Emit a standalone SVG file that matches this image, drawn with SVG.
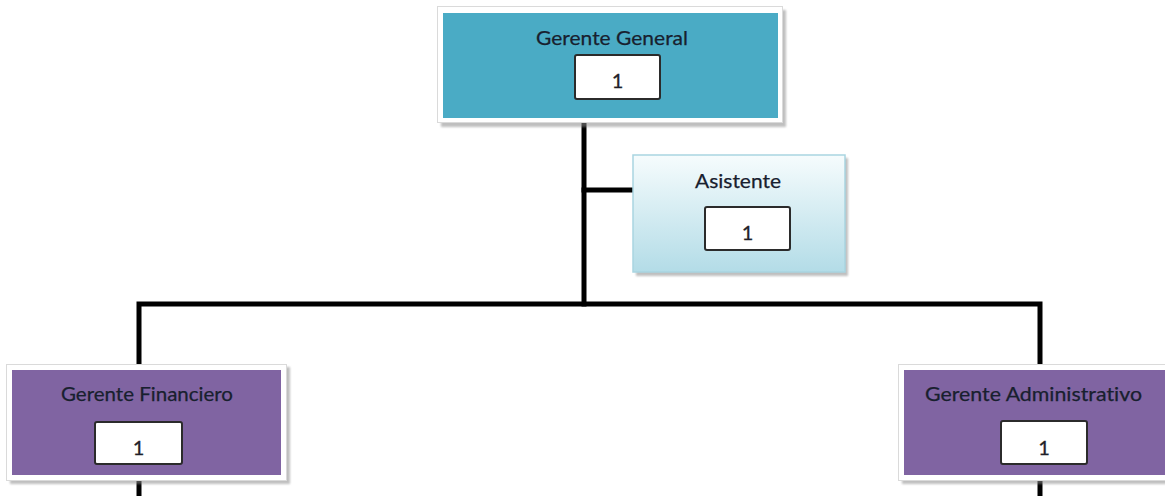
<svg xmlns="http://www.w3.org/2000/svg" width="1165" height="496" viewBox="0 0 1165 496">
  <defs>
    <linearGradient id="asistGrad" x1="0" y1="0" x2="0" y2="1">
      <stop offset="0" stop-color="#f6fcfd"/>
      <stop offset="1" stop-color="#b3dce7"/>
    </linearGradient>
    <filter id="soft" x="-5%" y="-5%" width="110%" height="115%">
      <feGaussianBlur stdDeviation="1.2"/>
    </filter>
  </defs>
  <style>
    .link { fill: none; stroke: #000; stroke-width: 5; stroke-linecap: square; stroke-linejoin: miter; }
    .shadow { fill: #8c8c8c; opacity: 0.55; filter: url(#soft); }
    .frame { fill: #ffffff; stroke: #dadada; stroke-width: 1; }
    .teal { fill: #4aabc5; }
    .purple { fill: #8064a2; }
    .asist { fill: url(#asistGrad); stroke: #a9d5e1; stroke-width: 1.5; }
    .count { fill: #ffffff; stroke: #2b2b2b; stroke-width: 2; }
    .title { font-family: "Lato", "Open Sans", "Liberation Sans", sans-serif; font-size: 20px; fill: #18202e; text-anchor: middle; font-variant-ligatures: none; stroke: #18202e; stroke-width: 0.25; }
    .num { font-family: "Lato", "Open Sans", "Liberation Sans", sans-serif; font-size: 20px; fill: #1f1f2a; text-anchor: middle; stroke: #1f1f2a; stroke-width: 0.3; }
  </style>

  <rect width="1165" height="496" fill="#ffffff"/>

  <!-- reporting lines -->
  <g id="connectors">
    <path class="link" d="M584 121 V304"/>
    <path class="link" d="M584 190 H632"/>
    <path class="link" d="M139 366 V304 H1040 V366"/>
    <path class="link" d="M139 482 V498"/>
    <path class="link" d="M1040 482 V498"/>
  </g>

  <!-- top position -->
  <g id="gerente-general">
    <rect class="shadow" x="441" y="10" width="345" height="117"/>
    <rect class="frame" x="437.5" y="6.5" width="345" height="116"/>
    <rect class="teal" x="443" y="13" width="335" height="105"/>
    <text class="title" x="612" y="45" textLength="152" lengthAdjust="spacingAndGlyphs">Gerente General</text>
    <rect class="count" x="575" y="55" width="85" height="44" rx="2"/>
    <text class="num" x="617.5" y="88">1</text>
  </g>

  <!-- staff position -->
  <g id="asistente">
    <rect class="shadow" x="636" y="158" width="212" height="118"/>
    <rect class="asist" x="633" y="155" width="212" height="117"/>
    <text class="title" x="738" y="188" textLength="86" lengthAdjust="spacingAndGlyphs">Asistente</text>
    <rect class="count" x="705" y="207" width="85" height="43" rx="2"/>
    <text class="num" x="747.5" y="240">1</text>
  </g>

  <!-- finance -->
  <g id="gerente-financiero">
    <rect class="shadow" x="10" y="367" width="280" height="117"/>
    <rect class="frame" x="6.5" y="364.5" width="280" height="116"/>
    <rect class="purple" x="12" y="370" width="269" height="105"/>
    <text class="title" x="147" y="401" textLength="172" lengthAdjust="spacingAndGlyphs">Gerente Financiero</text>
    <rect class="count" x="95" y="422" width="87" height="42" rx="2"/>
    <text class="num" x="138.5" y="455">1</text>
  </g>

  <!-- administration -->
  <g id="gerente-administrativo">
    <rect class="shadow" x="902" y="367" width="280" height="117"/>
    <rect class="frame" x="898.5" y="364.5" width="280" height="116"/>
    <rect class="purple" x="904" y="370" width="270" height="105"/>
    <text class="title" x="1033.5" y="401" textLength="217" lengthAdjust="spacingAndGlyphs">Gerente Administrativo</text>
    <rect class="count" x="1001" y="421" width="86" height="43" rx="2"/>
    <text class="num" x="1044" y="455">1</text>
  </g>
</svg>
